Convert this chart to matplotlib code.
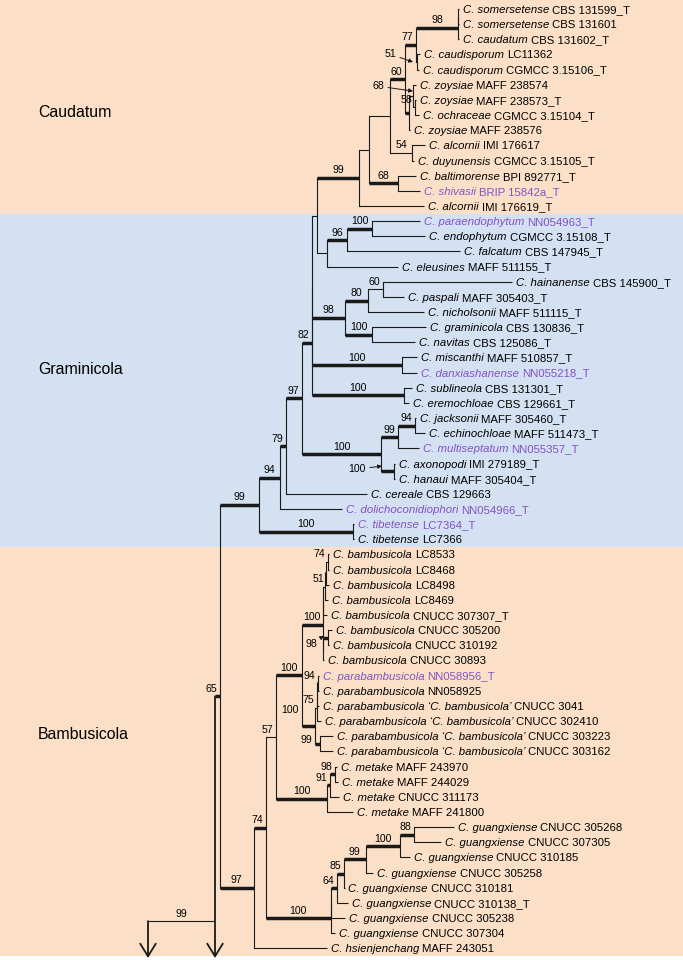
import matplotlib
matplotlib.use("Agg")
import matplotlib.pyplot as plt
from matplotlib.transforms import offset_copy

plt.rcParams["font.family"] = ["Liberation Sans", "DejaVu Sans"]

# taxa from top to bottom (row index = position in these lists)
species = [
    "C. somersetense", "C. somersetense", "C. caudatum", "C. caudisporum",
    "C. caudisporum", "C. zoysiae", "C. zoysiae", "C. ochraceae", "C. zoysiae",
    "C. alcornii", "C. duyunensis", "C. baltimorense", "C. shivasii", "C. alcornii",
    "C. paraendophytum", "C. endophytum", "C. falcatum", "C. eleusines",
    "C. hainanense", "C. paspali", "C. nicholsonii", "C. graminicola", "C. navitas",
    "C. miscanthi", "C. danxiashanense", "C. sublineola", "C. eremochloae",
    "C. jacksonii", "C. echinochloae", "C. multiseptatum", "C. axonopodi",
    "C. hanaui", "C. cereale", "C. dolichoconidiophori", "C. tibetense",
    "C. tibetense",
    "C. bambusicola", "C. bambusicola", "C. bambusicola", "C. bambusicola",
    "C. bambusicola", "C. bambusicola", "C. bambusicola", "C. bambusicola",
    "C. parabambusicola", "C. parabambusicola",
    "C. parabambusicola \u2018C. bambusicola\u2019",
    "C. parabambusicola \u2018C. bambusicola\u2019",
    "C. parabambusicola \u2018C. bambusicola\u2019",
    "C. parabambusicola \u2018C. bambusicola\u2019",
    "C. metake", "C. metake", "C. metake", "C. metake",
    "C. guangxiense", "C. guangxiense", "C. guangxiense", "C. guangxiense",
    "C. guangxiense", "C. guangxiense", "C. guangxiense", "C. guangxiense",
    "C. hsienjenchang",
]
strains = [
    "CBS 131599_T", "CBS 131601", "CBS 131602_T", "LC11362", "CGMCC 3.15106_T",
    "MAFF 238574", "MAFF 238573_T", "CGMCC 3.15104_T", "MAFF 238576",
    "IMI 176617", "CGMCC 3.15105_T", "BPI 892771_T", "BRIP 15842a_T",
    "IMI 176619_T",
    "NN054963_T", "CGMCC 3.15108_T", "CBS 147945_T", "MAFF 511155_T",
    "CBS 145900_T", "MAFF 305403_T", "MAFF 511115_T", "CBS 130836_T",
    "CBS 125086_T", "MAFF 510857_T", "NN055218_T", "CBS 131301_T",
    "CBS 129661_T", "MAFF 305460_T", "MAFF 511473_T", "NN055357_T",
    "IMI 279189_T", "MAFF 305404_T", "CBS 129663", "NN054966_T", "LC7364_T",
    "LC7366",
    "LC8533", "LC8468", "LC8498", "LC8469", "CNUCC 307307_T", "CNUCC 305200",
    "CNUCC 310192", "CNUCC 30893", "NN058956_T", "NN058925", "CNUCC 3041",
    "CNUCC 302410", "CNUCC 303223", "CNUCC 303162", "MAFF 243970",
    "MAFF 244029", "CNUCC 311173", "MAFF 241800", "CNUCC 305268",
    "CNUCC 307305", "CNUCC 310185", "CNUCC 305258", "CNUCC 310181",
    "CNUCC 310138_T", "CNUCC 305238", "CNUCC 307304", "MAFF 243051",
]
new_taxa = [12, 14, 24, 29, 33, 34, 44]

groups = ["Caudatum", "Graminicola", "Bambusicola"]
group_first = [0, 14, 36]
group_last = [13, 35, 62]

# Newick pieces: leaves are row numbers, lengths in 1e-3 units,
# node label = bootstrap, "*" = thick branch
caudatum = ("(((((((0:0.5,1:0.5):0,2:0.5)98*:21,(3:1.5,4:1)51:0.5)77*:5.5,"
            "((5:1.5,(6:0.5,7:2)58:1)68:2,8:0.5)*:2)60*:7.5,"
            "(9:6.5,10:1)54:11):10.5,(11:9,12:11)68*:14.5):5,13:32.5)99*:21")
eleusines = "(((14:24,15:26.5)100*:12.5,16:56.5)96*:10,17:35.5):5"
graminicola_core = ("(((18:64.5,19:10.5)60:7.5,20:28)80*:11.5,"
                    "(21:27,22:21.5)100*:13.5)98*:16.5")
miscanthi = "(23:7.5,24:7.5)100*:45"
sublineola = "(25:4,26:2.5)100*:46"
jacksonii = ("(((27:0.5,28:5)94*:8.5,29:10.5)99*:8.5,"
             "(30:0.5,31:0.5)100*:6.5)100*:39.5")
tibetense = "(34:0.5,35:0.5)100*:47"
bambusicola = ("(((((36:0.5,37:0.5)74:1,38:1.5)51*:0.5,39:1.5):1,40:2):0,"
               "((41:2,42:0.5)98*:2.5,43:0.5):0)100*:10.5")
parabambusicola = ("((((44:0.5,45:0.5)94*:0.5,46:1):0,47:2)75:1,"
                   "(48:6.5,49:6.5)99*:2.5)100*:6.5")
metake = "(((50:1,51:1.5)98*:2.5,52:4.5)91*:1.5,53:13)100*:25.5"
guangxiense = ("(((((((54:20,55:13.5)88*:7,56:5)100*:17,57:3.5)99*:11.25,"
               "58:0.5)85*:3.5,59:5.75)64*:3,60:7.25):0,61:2.25)100*:32.25")

graminicola = (f"((((((({caudatum},{eleusines}):2.5,{graminicola_core},{miscanthi}):0,"
               f"{sublineola})82*:5,{jacksonii})97*:8,32:40.5)79*:3,33:31)94*:10.5,"
               f"{tibetense})99*:19.5")
bambusicola_all = (f"(((({bambusicola},{parabambusicola})100*:13,{metake})57:5,"
                   f"{guangxiense})74*:6.25,62:36.75)97*:16.75")
tree_newick = f"((({graminicola},{bambusicola_all})65*:2.5)99:33.5);"


def parse_newick(s):
    pos = 0

    def node():
        nonlocal pos
        n = {"children": [], "label": "", "length": 0.0, "leaf": None}
        if s[pos] == "(":
            pos += 1
            while True:
                n["children"].append(node())
                if s[pos] == ",":
                    pos += 1
                    continue
                pos += 1
                break
        start = pos
        while s[pos] not in ":,);":
            pos += 1
        name = s[start:pos]
        if s[pos] == ":":
            pos += 1
            start = pos
            while s[pos] not in ",);":
                pos += 1
            n["length"] = float(s[start:pos])
        if n["children"]:
            n["label"] = name
        else:
            n["leaf"] = int(name)
        return n

    return node()


# layout
W, H, DPI = 6.83, 9.6, 100
XLIM = (-74, 267.5)
YLIM = (62.77, -0.594)
cont_row = 60.2
arrow_row = 62.64
band_colors = ["#fbe0c7", "#d4e1f2", "#fbe0c7"]
group_label_rows = [6.85, 23.8, 47.9]
group_label_px = 38
line_col = "#1a1a1a"
purple = "#8352c4"
thin, thick = 0.8, 2.5
tip_fs, sup_fs = 8.2, 7.6

# hand placed support labels: (dx, dy) of label, (dx, dy) of arrow tip, in px from node
label_moves = {
    (3, 4): (-27, -8, -4, 0),
    (5, 7): (-35, -10, 0, -5),
    (41, 42): (-17, 6.5, -4, -2),
    (30, 31): (-37, -2, -12, -5),
    (36, 38): (-8, 5.5, None, None),
    (48, 49): (-14, -3.5, None, None),
    (44, 49): (-25, -15.6, None, None),
}

fig = plt.figure(figsize=(W, H), dpi=DPI)
ax = fig.add_axes([0, 0, 1, 1])
ax.set_xlim(*XLIM)
ax.set_ylim(*YLIM)
ax.axis("off")
ppu = W * DPI / (XLIM[1] - XLIM[0])
ppr = H * DPI / (YLIM[0] - YLIM[1])

for i, g in enumerate(groups):
    top = YLIM[1] if i == 0 else group_first[i] - 0.5
    ax.axhspan(top, group_last[i] + 0.5, color=band_colors[i], lw=0, zorder=0)
    ax.text(XLIM[0] + group_label_px / ppu, group_label_rows[i], g,
            fontsize=11.4, ha="left", va="center")

root = parse_newick(tree_newick)


def layout(n, x0):
    n["x"] = x0 + n["length"]
    for c in n["children"]:
        layout(c, n["x"])
    if n["leaf"] is not None:
        n["y"] = n["leaf"]
        n["first"] = n["last"] = n["leaf"]
    else:
        n["first"] = n["children"][0]["first"]
        n["last"] = n["children"][-1]["last"]
        if len(n["children"]) == 1:
            n["y"] = cont_row
        else:
            n["y"] = (n["children"][0]["y"] + n["children"][-1]["y"]) / 2


layout(root, 0.0)

leaves = []


def draw(n):
    kids = n["children"]
    if not kids:
        leaves.append(n)
        return
    ys = [c["y"] for c in kids]
    if len(kids) == 1:
        ax.annotate("", xy=(n["x"], arrow_row), xytext=(n["x"], min(ys + [n["y"]])),
                    arrowprops=dict(arrowstyle="->,head_length=0.65,head_width=0.4",
                                    color=line_col, lw=1.3, mutation_scale=14,
                                    shrinkA=0, shrinkB=0))
    else:
        ax.plot([n["x"], n["x"]], [min(ys), max(ys)], color=line_col, lw=thin,
                solid_capstyle="projecting")
    for c in kids:
        bold = "*" in c["label"]
        ax.plot([n["x"], c["x"]], [c["y"], c["y"]], color=line_col,
                lw=thick if bold else thin, solid_capstyle="butt")
        sup = c["label"].replace("*", "")
        if sup:
            key = (c["first"], c["last"])
            if key in label_moves:
                dx, dy, tx, ty = label_moves[key]
                lx, ly = c["x"] + dx / ppu, c["y"] + dy / ppr
                if tx is None:
                    ax.text(lx, ly, sup, fontsize=sup_fs, ha="center", va="center")
                else:
                    ax.annotate(sup, xy=(c["x"] + tx / ppu, c["y"] + ty / ppr),
                                xytext=(lx, ly), fontsize=sup_fs, ha="center",
                                va="center",
                                arrowprops=dict(arrowstyle="-|>", color=line_col,
                                                lw=0.7, mutation_scale=6,
                                                shrinkA=1, shrinkB=0))
            else:
                w = len(sup) * 0.556 * sup_fs * DPI / 72
                cx = min((n["x"] + c["x"]) / 2 * ppu, c["x"] * ppu - 2.5 - w / 2)
                ax.text(cx / ppu, c["y"] - 4.5 / ppr, sup, fontsize=sup_fs,
                        ha="center", va="baseline")
        draw(c)


draw(root)

renderer = fig.canvas.get_renderer()
space_px = 3.0
for lf in leaves:
    i = lf["leaf"]
    col = purple if i in new_taxa else "black"
    t = ax.text(lf["x"], i, species[i], fontsize=tip_fs, style="italic", color=col,
                ha="left", va="baseline",
                transform=offset_copy(ax.transData, fig=fig, x=4, y=-4, units="dots"))
    w = t.get_window_extent(renderer).width
    ax.text(lf["x"], i, strains[i], fontsize=tip_fs, color=col, ha="left",
            va="baseline",
            transform=offset_copy(ax.transData, fig=fig, x=4 + w + space_px, y=-4,
                                  units="dots"))

fig.savefig("out.png", dpi=DPI)
